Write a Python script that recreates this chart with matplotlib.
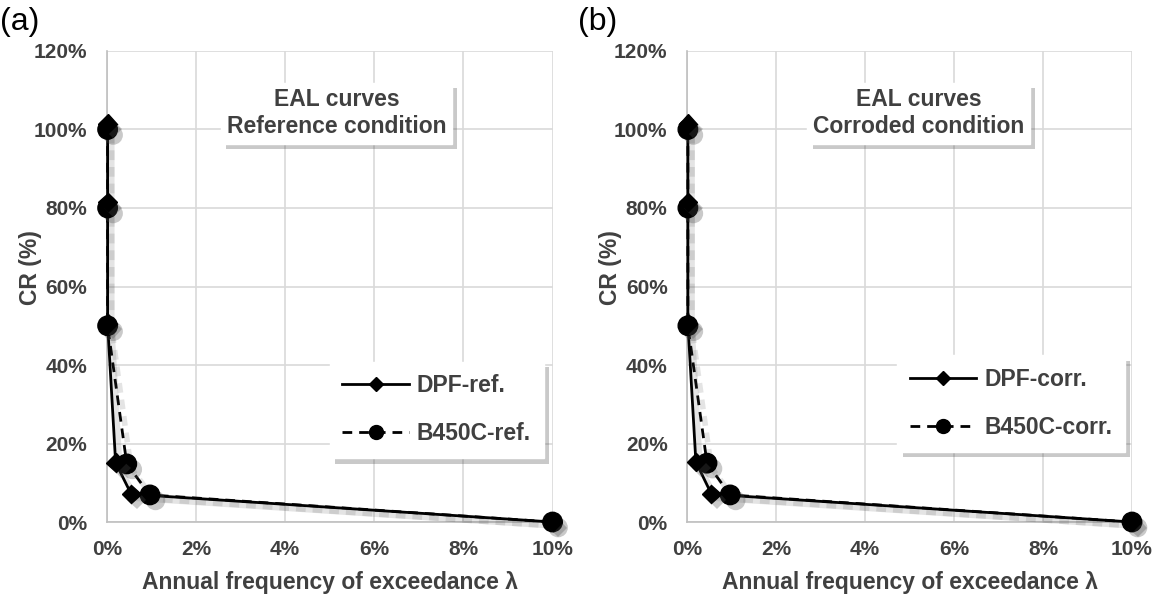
import matplotlib
matplotlib.use("Agg")
from matplotlib import pyplot as plt
from matplotlib import patheffects as pe
from matplotlib.ticker import PercentFormatter

plt.rcParams['font.family'] = ['Liberation Sans', 'DejaVu Sans']

# annual frequency of exceedance (fraction) and CR (fraction)
dpf_ref_x = [0.0002, 0.0002, 0.0002, 0.002, 0.0055, 0.10]
dpf_ref_y = [1.015, 0.815, 0.505, 0.151, 0.071, 0.0]
b450_ref_x = [0.0002, 0.0002, 0.0002, 0.0045, 0.0097, 0.10]
b450_ref_y = [1.00, 0.80, 0.50, 0.148, 0.069, 0.0]

dpf_corr_x = [0.0002, 0.0002, 0.0002, 0.002, 0.0055, 0.10]
dpf_corr_y = [1.015, 0.815, 0.505, 0.153, 0.071, 0.0]
b450_corr_x = [0.0002, 0.0002, 0.0002, 0.0045, 0.0097, 0.10]
b450_corr_y = [1.00, 0.80, 0.50, 0.150, 0.069, 0.0]

panels = [
    ("(a)", "EAL curves\nReference condition", "DPF-ref.", "B450C-ref.",
     dpf_ref_x, dpf_ref_y, b450_ref_x, b450_ref_y),
    ("(b)", "EAL curves\nCorroded condition", "DPF-corr.", "B450C-corr.",
     dpf_corr_x, dpf_corr_y, b450_corr_x, b450_corr_y),
]

grey = '#404040'
fig = plt.figure(figsize=(11.55, 5.97), dpi=100)
ax_boxes = [[0.0924, 0.1256, 0.386, 0.789], [0.5948, 0.1256, 0.3853, 0.789]]
title_x = [0.515, 0.52]
leg_anchor = [(0.98, 0.136), (0.984, 0.149)]
tag_x = [0.0, 0.5]

line_shadow = [pe.SimpleLineShadow(offset=(3, -3), shadow_color='0.3', alpha=0.15, linewidth=4), pe.Normal()]
patch_shadow = [pe.SimplePatchShadow(offset=(4, -4), shadow_rgbFace='0.3', alpha=0.3), pe.Normal()]

for i, (tag, title, lab1, lab2, x1, y1, x2, y2) in enumerate(panels):
    ax = fig.add_axes(ax_boxes[i])
    ax.set_xlim(0, 0.10)
    ax.set_ylim(0, 1.2)
    ax.set_xticks([0, 0.02, 0.04, 0.06, 0.08, 0.10])
    ax.set_yticks([0, 0.2, 0.4, 0.6, 0.8, 1.0, 1.2])
    ax.xaxis.set_major_formatter(PercentFormatter(1.0, decimals=0))
    ax.yaxis.set_major_formatter(PercentFormatter(1.0, decimals=0))
    ax.grid(True, color='#d9d9d9', linewidth=1.2)
    ax.set_axisbelow(True)
    for s in ['top', 'right']:
        ax.spines[s].set_visible(False)
    for s in ['left', 'bottom']:
        ax.spines[s].set_color('#bfbfbf')
        ax.spines[s].set_linewidth(1.2)
    ax.tick_params(length=0, labelsize=15, labelcolor=grey)
    ax.tick_params(axis='y', pad=14)
    ax.tick_params(axis='x', pad=13)
    for t in ax.get_xticklabels() + ax.get_yticklabels():
        t.set_fontweight('bold')

    # lines with shadow
    ax.plot(x2, y2, color='black', lw=2, linestyle=(0, (3.5, 2.5)),
            path_effects=line_shadow, zorder=3, clip_on=False)
    ax.plot(x1, y1, color='black', lw=2, path_effects=line_shadow, zorder=4, clip_on=False)
    ax.plot(x2, y2, 'o', color='black', ms=14, path_effects=patch_shadow, zorder=5, clip_on=False)
    ax.plot(x1, y1, 'D', color='black', ms=9.5, path_effects=patch_shadow, zorder=6, clip_on=False)

    # legend proxies
    h1, = ax.plot([], [], color='black', lw=2, marker='D', ms=7)
    h2, = ax.plot([], [], color='black', lw=2, marker='o', ms=10, linestyle=(0, (3.5, 2.5)))
    leg = ax.legend([h1, h2], [lab1, lab2], loc='lower right', bbox_to_anchor=leg_anchor[i],
                    fancybox=False, edgecolor='white', framealpha=1, handlelength=2.9,
                    handletextpad=0.35, labelspacing=1.1, borderpad=0.55, borderaxespad=0,
                    prop={'size': 16.5, 'weight': 'bold'})
    for t in leg.get_texts():
        t.set_color(grey)
    leg.get_frame().set_path_effects(patch_shadow)

    txt = ax.text(title_x[i], 0.868, title, transform=ax.transAxes, ha='center', va='center',
                  fontsize=16.5, fontweight='bold', color=grey, linespacing=1.2, zorder=7,
                  bbox=dict(boxstyle='square,pad=0.25', facecolor='white', edgecolor='white'))
    txt.get_bbox_patch().set_path_effects(patch_shadow)

    ax.set_ylabel('CR (%)', fontsize=16.5, fontweight='bold', color=grey)
    ax.yaxis.set_label_coords(-0.145, 0.54)
    ax.set_xlabel('Annual frequency of exceedance \u03bb', fontsize=16.5, fontweight='bold', color=grey)
    ax.xaxis.set_label_coords(0.5, -0.105)

    fig.text(tag_x[i], 1 - 7 / 597, tag, fontsize=23, va='top', ha='left', color='black')

fig.savefig('out.png', dpi=100)
